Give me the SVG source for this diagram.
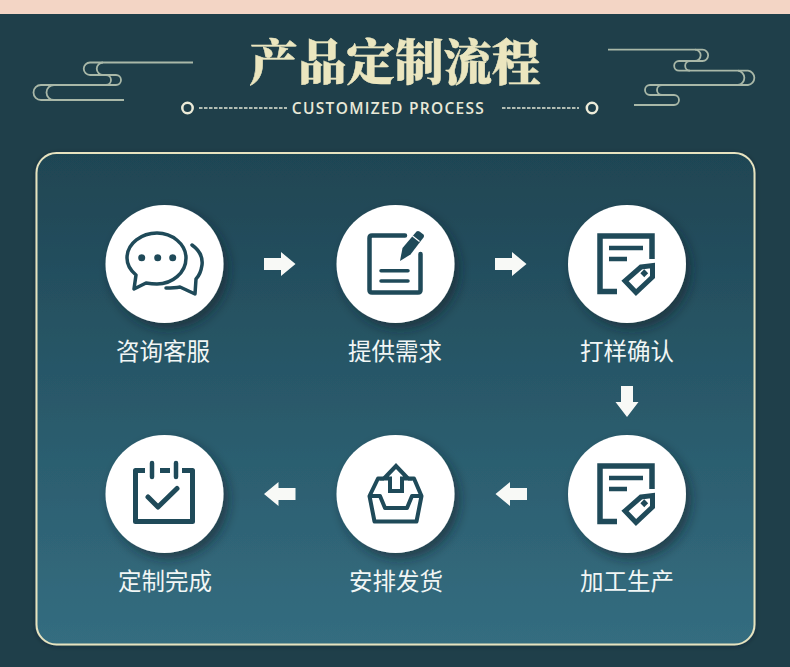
<svg xmlns="http://www.w3.org/2000/svg" width="790" height="667" viewBox="0 0 790 667">
<style>
.orn{fill:none;stroke:#a9b8a8;stroke-width:1.800}
.ico{fill:none;stroke:#1f4a59;stroke-width:4.500}
.sq{fill:none;stroke:#1f4a59;stroke-width:5.500}
.lab{font-family:"Noto Sans CJK SC","Noto Sans",sans-serif;font-size:23.500px;fill:#f1f6f5;text-anchor:middle}
.arr{fill:#f8f9f6}
.disc{fill:#fff;filter:url(#sh)}
</style>
<defs>
<linearGradient id="pg" x1="0" y1="0" x2="0" y2="1"><stop offset="0" stop-color="#1f4553"/><stop offset=".5" stop-color="#29596a"/><stop offset="1" stop-color="#346d80"/></linearGradient>
<filter id="sh" x="-30%" y="-30%" width="170%" height="170%"><feDropShadow dx="5" dy="6" stdDeviation="6" flood-color="#0c2028" flood-opacity=".55"/></filter>
<filter id="ps" x="-5%" y="-5%" width="110%" height="110%"><feDropShadow dx="0" dy="1" stdDeviation="2.500" flood-color="#0c2028" flood-opacity=".35"/></filter>
<g id="tagdoc">
<path class="sq" d="M617 291.500H600V236H652V259"/>
<path d="M609 248H643M609 259H627" fill="none" stroke="#1f4a59" stroke-width="4.500"/>
<path d="M641 267 652.500 265.500V277L636 292.500 625 281Z" fill="#fff" stroke="#1f4a59" stroke-width="5"/>
<rect x="641.500" y="270.500" width="5.500" height="5.500" fill="#1f4a59" transform="rotate(45 644.250 273.250)"/>
</g>
</defs>
<rect width="790" height="667" fill="#1f3f4a"/>
<rect width="790" height="14" fill="#f3d5c5"/>
<g id="ornament-left" class="orn">
<path d="M193 62.500H90A6.250 6.250 0 0 0 90 75H116A5 5 0 0 1 116 85H41A7.500 7.500 0 0 0 41 100H124"/>
<path d="M103 62.500A6.250 6.250 0 0 0 103 75M106 75A5 5 0 0 1 106 85M54 85A7.500 7.500 0 0 0 54 100"/>
</g>
<g id="ornament-right" class="orn">
<path d="M608 49.700H702.500A5.600 5.600 0 0 1 702.500 61H679A4.800 4.800 0 0 0 679 70.700H748A7.200 7.200 0 0 1 748 85H650A5 5 0 0 0 650 95H674A5 5 0 0 1 674 105H634"/>
<path d="M695 49.700A5.600 5.600 0 0 1 695 61M690 61A4.800 4.800 0 0 0 690 70.700M738 70.700A7.200 7.200 0 0 1 738 85M662 85A5 5 0 0 0 662 95"/>
</g>
<g id="title">
<text x="395" y="79.500" text-anchor="middle" font-family="'Noto Serif CJK SC','Noto Sans CJK SC',serif" font-weight="900" font-size="48.500px" fill="#ebe6bf" stroke="#ebe6bf" stroke-width=".5">产品定制流程</text>
<text x="388.500" y="113.500" text-anchor="middle" font-family="'Open Sans','Liberation Sans',sans-serif" font-size="15.500px" letter-spacing="1.300" font-weight="600" fill="#e8e9d8">CUSTOMIZED PROCESS</text>
<circle cx="187.500" cy="108" r="5.200" fill="none" stroke="#ecebd8" stroke-width="2.500"/>
<circle cx="592" cy="108" r="5.200" fill="none" stroke="#ecebd8" stroke-width="2.500"/>
<path d="M199 108H287M502 108H579" stroke="#e4e7d8" stroke-width="1.400" stroke-dasharray="3.500 1.500" fill="none"/>
</g>
<rect id="panel" x="36.500" y="153" width="718" height="491.500" rx="20" fill="url(#pg)" stroke="#e6e3c0" stroke-width="2" filter="url(#ps)"/>
<g id="connectors">
<path id="a1" class="arr" d="M264 258H281V252L295.500 264 281 276V270H264Z"/>
<path id="a2" class="arr" d="M495 258H512V252L526.500 264 512 276V270H495Z"/>
<path id="a3" class="arr" d="M621 386H633V402H638.500L627 417 615.500 402H621Z"/>
<path id="a4" class="arr" d="M527 488H510V482L495.500 494 510 506V500H527Z"/>
<path id="a5" class="arr" d="M295.500 488H278.500V482L264 494 278.500 506V500H295.500Z"/>
</g>
<g id="node-consult">
<circle class="disc" cx="164.500" cy="264" r="59"/>
<path class="ico" stroke-width="3.500" stroke-linejoin="round" stroke-linecap="round" style="stroke-width:3.500px" d="M136 275C130 270 127 264 127 258 127 243 142 233 157 233 172 233 186 244 186 258 186 273 172 284 157 284 153 284 149 283.500 146 283L134 289Z"/>
<path class="ico" style="stroke-width:3.500px" stroke-linejoin="round" stroke-linecap="round" d="M192 245C199 250 203 257 202 265 201 272 199 276 196 279L195 294 180 287C175 288 170 288 166 288"/>
<circle cx="141.700" cy="257.700" r="3.500" fill="#1f4a59"/><circle cx="157.700" cy="257.700" r="3.500" fill="#1f4a59"/><circle cx="172.700" cy="257.700" r="3.500" fill="#1f4a59"/>
<text class="lab" x="163" y="360">咨询客服</text>
</g>
<g id="node-demand">
<circle class="disc" cx="395.500" cy="264" r="59"/>
<path class="ico" stroke-linejoin="round" stroke-linecap="round" d="M405 235.500H372Q369.500 235.500 369.500 238V290Q369.500 292.500 372 292.500H418Q420.500 292.500 420.500 290V254"/>
<path d="M381 270.700H408M381 281H408" stroke="#1f4a59" stroke-width="3.500" fill="none" stroke-linecap="round"/>
<path d="M400 261 402.500 248 416.500 231.500Q418 230.500 419.500 231.500L423.500 234.500Q424.500 236 423.500 237.500L410.500 254.500Z" fill="#1f4a59"/>
<path d="M412.500 236 419.500 241.500" stroke="#fff" stroke-width="1.200"/>
<text class="lab" x="395" y="360">提供需求</text>
</g>
<g id="node-sample">
<circle class="disc" cx="627" cy="264" r="59"/>
<use href="#tagdoc"/>
<text class="lab" x="627" y="360">打样确认</text>
</g>
<g id="node-production">
<circle class="disc" cx="627" cy="494" r="59"/>
<use href="#tagdoc" y="230"/>
<text class="lab" x="627" y="590">加工生产</text>
</g>
<g id="node-shipping">
<circle class="disc" cx="395.500" cy="494" r="59"/>
<path class="ico" style="stroke-width:4px" d="M396 466 384 478.500H390V491H402V478.500H408Z"/>
<path class="ico" style="stroke-width:4px" stroke-linejoin="round" d="M384 478.500H378L369.500 496 374.500 521.500H416.500L421.500 496 414 478.500H408M369.500 496H380L385 508H407L412 496H421.500"/>
<text class="lab" x="396" y="590">安排发货</text>
</g>
<g id="node-done">
<circle class="disc" cx="164.500" cy="494" r="59"/>
<path class="ico" style="stroke-width:5px" stroke-linejoin="round" d="M145 470.500H135.500V521.500H192.500V470.500H182M160 470.500H170"/>
<path d="M152 463V477M176 463V477" stroke="#1f4a59" stroke-width="4.500" fill="none" stroke-linecap="round"/>
<path d="M148 497 158 507 177 488.500" stroke="#1f4a59" stroke-width="5" fill="none" stroke-linecap="round" stroke-linejoin="round"/>
<text class="lab" x="165" y="590">定制完成</text>
</g>
</svg>
